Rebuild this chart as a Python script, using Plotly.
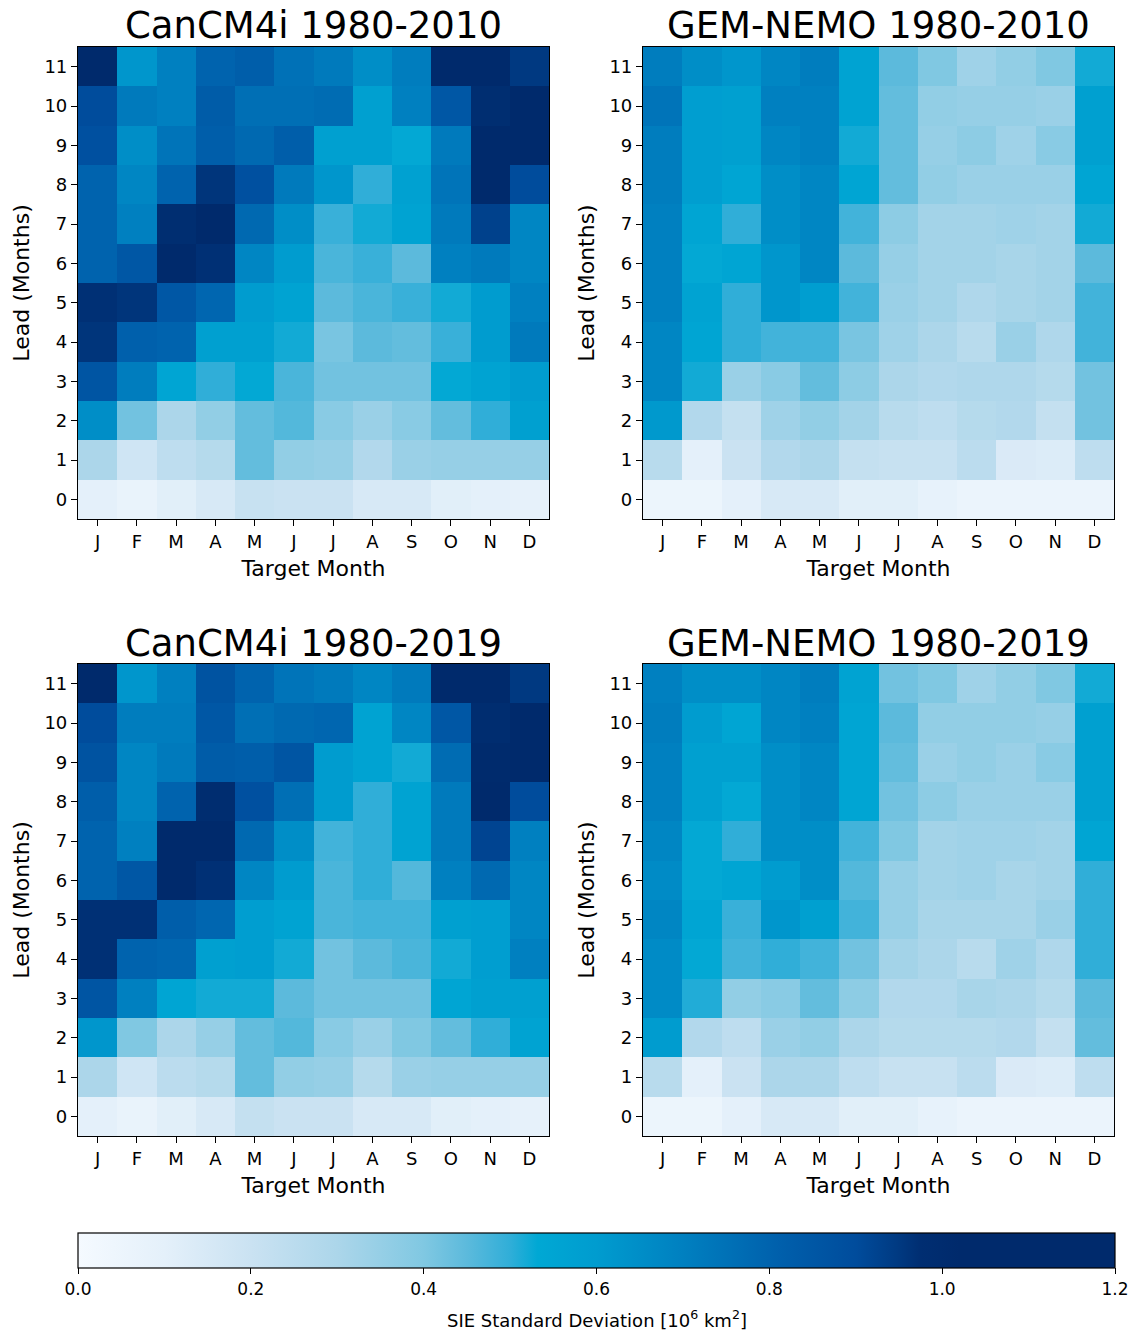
import plotly.graph_objects as go

months = ["J", "F", "M", "A", "M", "J", "J", "A", "S", "O", "N", "D"]
leads = list(range(12))
titles = ["CanCM4i 1980-2010", "GEM-NEMO 1980-2010", "CanCM4i 1980-2019", "GEM-NEMO 1980-2019"]

# rows: lead 0 .. lead 11 ; columns: target month J..D
cancm4i_2010 = [
    [0.10, 0.07, 0.11, 0.15, 0.21, 0.20, 0.20, 0.15, 0.15, 0.11, 0.10, 0.09],
    [0.30, 0.18, 0.24, 0.27, 0.44, 0.36, 0.35, 0.28, 0.34, 0.35, 0.35, 0.35],
    [0.65, 0.42, 0.30, 0.36, 0.44, 0.46, 0.38, 0.34, 0.38, 0.44, 0.50, 0.58],
    [0.86, 0.71, 0.55, 0.50, 0.53, 0.47, 0.42, 0.42, 0.42, 0.53, 0.56, 0.60],
    [0.96, 0.81, 0.80, 0.58, 0.58, 0.52, 0.41, 0.45, 0.44, 0.49, 0.60, 0.72],
    [0.97, 0.96, 0.85, 0.79, 0.60, 0.56, 0.45, 0.47, 0.49, 0.52, 0.60, 0.70],
    [0.80, 0.85, 1.02, 0.97, 0.68, 0.60, 0.47, 0.49, 0.45, 0.70, 0.72, 0.68],
    [0.80, 0.70, 0.98, 1.05, 0.78, 0.65, 0.49, 0.52, 0.56, 0.72, 0.93, 0.68],
    [0.80, 0.68, 0.80, 0.96, 0.88, 0.72, 0.62, 0.50, 0.57, 0.74, 1.05, 0.90],
    [0.88, 0.65, 0.74, 0.82, 0.78, 0.82, 0.58, 0.58, 0.53, 0.72, 1.02, 1.02],
    [0.90, 0.72, 0.70, 0.83, 0.76, 0.76, 0.77, 0.58, 0.70, 0.85, 0.98, 1.02],
    [1.05, 0.62, 0.70, 0.80, 0.82, 0.75, 0.72, 0.65, 0.71, 1.05, 1.05, 0.95],
]

gemnemo_2010 = [
    [0.05, 0.05, 0.10, 0.15, 0.15, 0.11, 0.11, 0.08, 0.06, 0.06, 0.06, 0.06],
    [0.26, 0.10, 0.20, 0.28, 0.30, 0.22, 0.21, 0.21, 0.25, 0.14, 0.13, 0.24],
    [0.61, 0.28, 0.22, 0.33, 0.36, 0.32, 0.26, 0.24, 0.27, 0.28, 0.22, 0.42],
    [0.68, 0.52, 0.34, 0.38, 0.44, 0.37, 0.30, 0.28, 0.29, 0.29, 0.27, 0.42],
    [0.68, 0.55, 0.50, 0.48, 0.48, 0.41, 0.33, 0.30, 0.26, 0.34, 0.29, 0.48],
    [0.70, 0.56, 0.50, 0.62, 0.59, 0.48, 0.34, 0.32, 0.29, 0.31, 0.32, 0.48],
    [0.70, 0.53, 0.55, 0.62, 0.68, 0.45, 0.35, 0.32, 0.32, 0.31, 0.32, 0.45],
    [0.70, 0.55, 0.50, 0.65, 0.68, 0.48, 0.37, 0.32, 0.32, 0.33, 0.32, 0.52],
    [0.71, 0.59, 0.55, 0.65, 0.68, 0.55, 0.44, 0.36, 0.34, 0.34, 0.34, 0.55],
    [0.71, 0.59, 0.58, 0.68, 0.70, 0.52, 0.44, 0.35, 0.37, 0.33, 0.38, 0.58],
    [0.74, 0.59, 0.58, 0.70, 0.70, 0.56, 0.44, 0.36, 0.35, 0.35, 0.34, 0.58],
    [0.71, 0.65, 0.62, 0.68, 0.71, 0.56, 0.45, 0.40, 0.33, 0.36, 0.40, 0.52],
]

cancm4i_2019 = [
    [0.10, 0.07, 0.11, 0.15, 0.22, 0.20, 0.20, 0.15, 0.15, 0.11, 0.10, 0.09],
    [0.30, 0.18, 0.25, 0.27, 0.44, 0.36, 0.35, 0.27, 0.34, 0.35, 0.35, 0.35],
    [0.62, 0.40, 0.30, 0.35, 0.44, 0.46, 0.38, 0.34, 0.40, 0.44, 0.50, 0.56],
    [0.86, 0.70, 0.55, 0.52, 0.52, 0.45, 0.42, 0.42, 0.42, 0.55, 0.58, 0.58],
    [0.97, 0.80, 0.79, 0.58, 0.59, 0.52, 0.42, 0.45, 0.47, 0.52, 0.59, 0.70],
    [0.97, 0.97, 0.82, 0.79, 0.59, 0.56, 0.47, 0.48, 0.48, 0.58, 0.59, 0.68],
    [0.80, 0.85, 1.06, 0.97, 0.68, 0.60, 0.47, 0.50, 0.46, 0.70, 0.78, 0.68],
    [0.80, 0.70, 1.02, 1.06, 0.78, 0.65, 0.48, 0.50, 0.56, 0.72, 0.92, 0.70],
    [0.82, 0.68, 0.80, 0.99, 0.88, 0.76, 0.60, 0.50, 0.56, 0.72, 1.06, 0.90],
    [0.87, 0.68, 0.72, 0.83, 0.82, 0.86, 0.60, 0.56, 0.52, 0.77, 1.01, 1.03],
    [0.90, 0.71, 0.71, 0.85, 0.76, 0.78, 0.79, 0.56, 0.68, 0.85, 0.99, 1.02],
    [1.03, 0.62, 0.70, 0.87, 0.80, 0.74, 0.72, 0.68, 0.72, 1.05, 1.06, 0.95],
]

gemnemo_2019 = [
    [0.05, 0.05, 0.10, 0.15, 0.15, 0.11, 0.11, 0.08, 0.06, 0.06, 0.06, 0.06],
    [0.26, 0.10, 0.20, 0.30, 0.30, 0.24, 0.21, 0.21, 0.25, 0.14, 0.13, 0.24],
    [0.60, 0.28, 0.24, 0.34, 0.36, 0.30, 0.27, 0.27, 0.27, 0.28, 0.22, 0.44],
    [0.66, 0.51, 0.36, 0.38, 0.44, 0.37, 0.28, 0.28, 0.31, 0.30, 0.27, 0.45],
    [0.66, 0.53, 0.48, 0.50, 0.48, 0.42, 0.32, 0.30, 0.26, 0.33, 0.29, 0.50],
    [0.68, 0.55, 0.49, 0.62, 0.58, 0.48, 0.35, 0.31, 0.31, 0.31, 0.34, 0.50],
    [0.66, 0.53, 0.55, 0.60, 0.65, 0.46, 0.35, 0.32, 0.33, 0.31, 0.32, 0.50],
    [0.68, 0.53, 0.50, 0.65, 0.65, 0.48, 0.40, 0.32, 0.33, 0.33, 0.32, 0.55],
    [0.70, 0.58, 0.53, 0.65, 0.68, 0.55, 0.42, 0.37, 0.34, 0.34, 0.34, 0.58],
    [0.70, 0.58, 0.58, 0.65, 0.68, 0.55, 0.44, 0.34, 0.36, 0.34, 0.38, 0.58],
    [0.71, 0.60, 0.55, 0.68, 0.70, 0.55, 0.45, 0.36, 0.36, 0.36, 0.35, 0.58],
    [0.70, 0.65, 0.65, 0.68, 0.71, 0.56, 0.42, 0.40, 0.33, 0.36, 0.40, 0.52],
]

cbar_ticks = [0.0, 0.2, 0.4, 0.6, 0.8, 1.0, 1.2]

colorscale = [
    [0.0, "#f5faff"],
    [0.0833, "#e4f0fa"],
    [0.1667, "#cae2f2"],
    [0.25, "#acd6ea"],
    [0.3333, "#80c8e2"],
    [0.375, "#5cbadc"],
    [0.4167, "#30aed8"],
    [0.4433, "#00a8d4"],
    [0.5, "#009ccf"],
    [0.5833, "#0080c0"],
    [0.675, "#0060ac"],
    [0.75, "#004c9c"],
    [0.79, "#003a82"],
    [0.8125, "#002e72"],
    [0.85, "#002a6c"],
    [1.0, "#002a6c"],
]

W, H = 1134, 1330
FONT = "DejaVu Sans"

panels = [cancm4i_2010, gemnemo_2010, cancm4i_2019, gemnemo_2019]
# pixel boxes (left, right, top, bottom)
boxes = [(78, 549, 47, 519), (643, 1114, 47, 519), (78, 549, 664, 1136), (643, 1114, 664, 1136)]

fig = go.Figure()
for i, (z, box) in enumerate(zip(panels, boxes)):
    n = "" if i == 0 else str(i + 1)
    fig.add_trace(go.Heatmap(
        z=z, x=list(range(12)), y=leads, coloraxis="coloraxis",
        xaxis="x" + n, yaxis="y" + n, xgap=0, ygap=0,
    ))
    l, r, t, b = box
    axcommon = dict(showline=True, linecolor="black", linewidth=1.2, mirror=True,
                    ticks="outside", ticklen=6, tickwidth=1.2, tickcolor="black",
                    showgrid=False, zeroline=False,
                    tickfont=dict(family=FONT, size=18, color="black"))
    fig.update_layout(**{
        "xaxis" + n: dict(domain=[l / W, r / W], anchor="y" + n,
                          range=[-0.5, 11.5], tickmode="array",
                          tickvals=list(range(12)), ticktext=months,
                          title=dict(text="Target Month", standoff=9,
                                     font=dict(family=FONT, size=22, color="black")),
                          **axcommon),
        "yaxis" + n: dict(domain=[1 - b / H, 1 - t / H], anchor="x" + n,
                          range=[-0.5, 11.5], tickmode="array",
                          tickvals=leads, ticktext=[str(v) for v in leads],
                          title=dict(text="Lead (Months)", standoff=8,
                                     font=dict(family=FONT, size=22, color="black")),
                          **axcommon),
    })
    fig.add_annotation(text=titles[i], x=(l + r) / 2 / W, y=1 - (t - 21) / H,
                       xref="paper", yref="paper",
                       xanchor="center", yanchor="middle",
                       showarrow=False, font=dict(family=FONT, size=37, color="black"))

# colorbar title as annotation to control its position
fig.add_annotation(text="SIE Standard Deviation [10<sup>6</sup> km<sup>2</sup>]",
                   x=(78 + 1115) / 2 / W, y=1 - 1319 / H, xref="paper", yref="paper",
                   xanchor="center", yanchor="middle", showarrow=False,
                   font=dict(family=FONT, size=18, color="black"))

fig.update_layout(
    width=W, height=H,
    margin=dict(l=0, r=0, t=0, b=0),
    paper_bgcolor="white", plot_bgcolor="white",
    coloraxis=dict(
        cmin=0, cmax=1.2, colorscale=colorscale,
        colorbar=dict(
            orientation="h", x=(78 + 1115) / 2 / W, xanchor="center",
            y=1 - 1233 / H, yanchor="top", len=(1115 - 78) / W, lenmode="fraction",
            thickness=35, thicknessmode="pixels", xpad=0, ypad=0,
            outlinecolor="black", outlinewidth=1.2,
            tickmode="array", tickvals=cbar_ticks,
            ticktext=[f"{v:.1f}" for v in cbar_ticks],
            ticks="outside", ticklen=6, tickcolor="black",
            tickfont=dict(family=FONT, size=17, color="black"),
        ),
    ),
)

fig.write_html("out.html")
